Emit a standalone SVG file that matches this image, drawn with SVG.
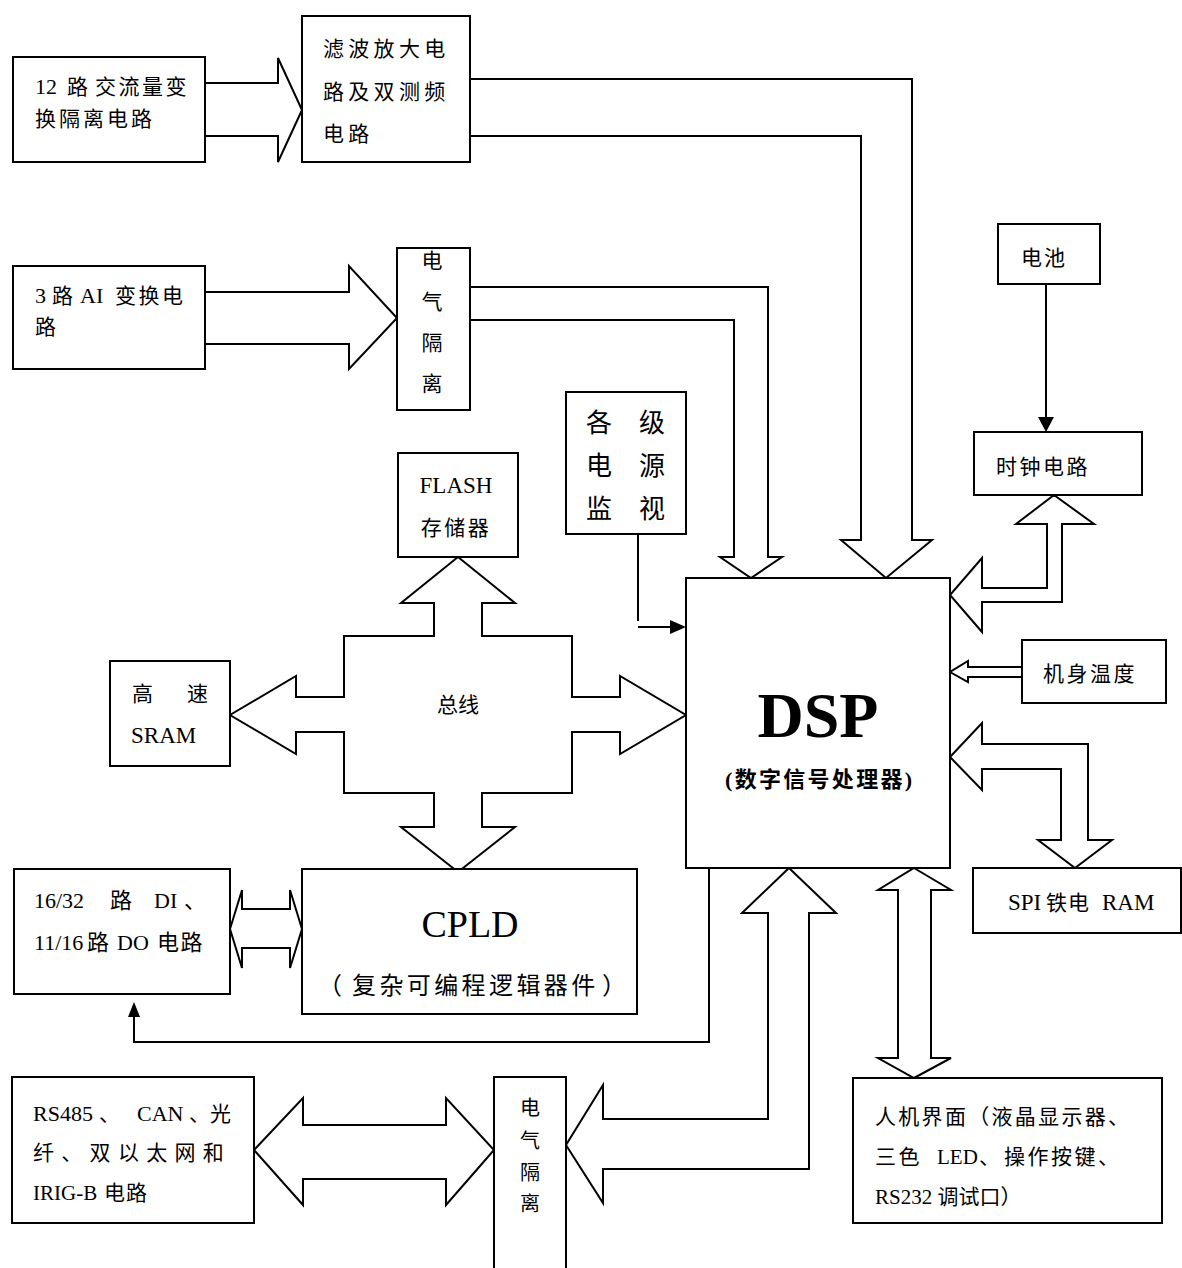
<svg xmlns="http://www.w3.org/2000/svg" width="1182" height="1268" viewBox="0 0 1182 1268">
  <defs>
    <style>
      .box { fill: #fff; stroke: #000; stroke-width: 2; }
      .ln { fill: none; stroke: #000; stroke-width: 2; }
      .fat { fill: #fff; stroke: #000; stroke-width: 2; stroke-linejoin: miter; }
      .head { fill: #000; stroke: none; }
      text { font-family: "Liberation Serif", "Noto Sans CJK SC", serif; font-size: 21px; fill: #000; }
      .mid { text-anchor: middle; }
      .lat { font-size: 22px; }
    </style>
  </defs>
  <rect width="1182" height="1268" fill="#fff"/>

  <!-- connectors -->
  <g id="connectors">
    <!-- AC inputs to filter/amplifier -->
    <polyline class="fat" points="205,83 278,83 278,58 302,110 278,162 278,136 205,136"/>
    <!-- filter/amplifier to DSP -->
    <polyline class="fat" points="470,79 912,79 912,540 932,540 886,578 841,540 861,540 861,136 470,136"/>
    <!-- AI conversion to isolation -->
    <polyline class="fat" points="205,292 349,292 349,266 397,318 349,369 349,344 205,344"/>
    <!-- isolation to DSP -->
    <polyline class="fat" points="470,287 768,287 768,557 782,557 751,578 720,557 734,557 734,320 470,320"/>
    <!-- system bus -->
    <polygon class="fat" points="458,557 515,603 482,603 482,636 572,636 572,697 620,697 620,676 686,715 620,754 620,732 572,732 572,793 482,793 482,827 515,827 458,872 401,827 434,827 434,793 344,793 344,732 296,732 296,754 230,715 296,676 296,697 344,697 344,636 434,636 434,603 401,603"/>
    <!-- power monitor to DSP -->
    <polyline class="ln" points="638,534 638,621"/>
    <line class="ln" x1="638" y1="627" x2="671" y2="627"/>
    <polygon class="head" points="670,620 686,627 670,634"/>
    <!-- battery to clock -->
    <line class="ln" x1="1046" y1="284" x2="1046" y2="418"/>
    <polygon class="head" points="1038,417 1054,417 1046,432"/>
    <!-- clock <-> DSP -->
    <polygon class="fat" points="1054,495 1094,524 1062,524 1062,602 982,602 982,632 950,595 982,558 982,588 1047,588 1047,524 1016,524"/>
    <!-- temperature to DSP -->
    <polyline class="fat" points="1022,667 968,667 968,661 950,672 968,682 968,677 1022,677"/>
    <!-- SPI RAM <-> DSP -->
    <polygon class="fat" points="950,757 982,723 982,744 1088,744 1088,840 1112,840 1075,868 1038,840 1061,840 1061,769 982,769 982,790"/>
    <!-- HMI <-> DSP -->
    <polygon class="fat" points="914,868 951,890 931,890 931,1058 951,1058 914,1078 878,1058 898,1058 898,890 878,890"/>
    <!-- communication isolation <-> DSP -->
    <polygon class="fat" points="789,868 836,913 809,913 809,1169 603,1169 603,1203 566,1145 603,1085 603,1119 768,1119 768,913 742,913"/>
    <!-- communication circuits <-> isolation -->
    <polygon class="fat" points="254,1150 303,1098 303,1125 446,1125 446,1098 494,1150 446,1205 446,1179 303,1179 303,1205"/>
    <!-- DI/DO <-> CPLD -->
    <polygon class="fat" points="230,929 242,890 242,909 290,909 290,890 302,929 290,968 290,948 242,948 242,968"/>
    <!-- DSP to DI/DO -->
    <polyline class="ln" points="709,868 709,1042 134,1042 134,1016"/>
    <polygon class="head" points="128,1017 140,1017 134,1002"/>
  </g>

  <!-- nodes -->
  <g id="ac-input">
    <rect class="box" x="13" y="57" width="192" height="105"/>
    <text y="94"><tspan class="lat" x="35">12</tspan><tspan x="67">路</tspan><tspan x="95" letter-spacing="2.5">交流量变</tspan></text>
    <text x="35" y="126" letter-spacing="3">换隔离电路</text>
  </g>

  <g id="filter-amp">
    <rect class="box" x="302" y="16" width="168" height="146"/>
    <text x="323" y="56" letter-spacing="4.3">滤波放大电</text>
    <text x="323" y="99" letter-spacing="4.3">路及双测频</text>
    <text x="323" y="141" letter-spacing="4.3">电路</text>
  </g>

  <g id="ai-input">
    <rect class="box" x="13" y="266" width="192" height="103"/>
    <text y="303"><tspan class="lat" x="35">3</tspan><tspan x="52">路</tspan><tspan class="lat" x="80">AI</tspan><tspan x="115" letter-spacing="2.5">变换电</tspan></text>
    <text x="35" y="334">路</text>
  </g>

  <g id="ai-isolation">
    <rect class="box" x="397" y="248" width="73" height="162"/>
    <text class="mid" x="432" y="268">电</text>
    <text class="mid" x="432" y="309">气</text>
    <text class="mid" x="432" y="350">隔</text>
    <text class="mid" x="432" y="391">离</text>
  </g>

  <g id="power-monitor">
    <rect class="box" x="566" y="392" width="120" height="142"/>
    <text class="mid" x="599" y="432" style="font-size:26px">各</text>
    <text class="mid" x="652" y="432" style="font-size:26px">级</text>
    <text class="mid" x="599" y="475" style="font-size:26px">电</text>
    <text class="mid" x="652" y="475" style="font-size:26px">源</text>
    <text class="mid" x="599" y="518" style="font-size:26px">监</text>
    <text class="mid" x="652" y="518" style="font-size:26px">视</text>
  </g>

  <g id="flash">
    <rect class="box" x="398" y="453" width="120" height="104"/>
    <text class="mid" x="456" y="493" style="font-size:23px">FLASH</text>
    <text class="mid" x="456" y="535" letter-spacing="2.5">存储器</text>
  </g>

  <g id="bus-label">
    <text class="mid" x="458" y="712">总线</text>
  </g>

  <g id="sram">
    <rect class="box" x="110" y="661" width="120" height="105"/>
    <text x="132" y="701">高</text>
    <text x="187" y="701">速</text>
    <text x="131" y="743" style="font-size:23px">SRAM</text>
  </g>

  <g id="dsp">
    <rect class="box" x="686" y="578" width="264" height="290"/>
    <text class="mid" x="818" y="737" style="font-size:64px;font-weight:bold">DSP</text>
    <text x="725" y="787" style="font-size:22px;font-weight:bold" letter-spacing="2.3">(数字信号处理器)</text>
  </g>

  <g id="battery">
    <rect class="box" x="998" y="224" width="102" height="60"/>
    <text x="1021" y="265" letter-spacing="2">电池</text>
  </g>

  <g id="clock">
    <rect class="box" x="974" y="432" width="168" height="63"/>
    <text x="996" y="474" letter-spacing="2.5">时钟电路</text>
  </g>

  <g id="temperature">
    <rect class="box" x="1022" y="640" width="144" height="63"/>
    <text x="1043" y="681" letter-spacing="2.5">机身温度</text>
  </g>

  <g id="spi-ram">
    <rect class="box" x="973" y="868" width="208" height="65"/>
    <text y="910"><tspan x="1008" style="font-size:23px">SPI</tspan><tspan x="1046" letter-spacing="1">铁电</tspan><tspan x="1102" style="font-size:23px">RAM</tspan></text>
  </g>

  <g id="dido">
    <rect class="box" x="14" y="869" width="216" height="125"/>
    <text y="908" class="lat"><tspan x="34">16/32</tspan><tspan x="110">路</tspan><tspan x="154">DI</tspan><tspan x="184">、</tspan></text>
    <text y="950" class="lat"><tspan x="34">11/16</tspan><tspan x="87">路</tspan><tspan x="117">DO</tspan><tspan x="157" letter-spacing="1.5">电路</tspan></text>
  </g>

  <g id="cpld">
    <rect class="box" x="302" y="869" width="335" height="145"/>
    <text class="mid" x="470" y="937" style="font-size:38px">CPLD</text>
    <text y="994" style="font-size:24px"><tspan x="318">（</tspan><tspan x="352" letter-spacing="3.4">复杂可编程逻辑器件</tspan><tspan x="602">）</tspan></text>
  </g>

  <g id="comm">
    <rect class="box" x="12" y="1077" width="242" height="146"/>
    <text y="1121"><tspan class="lat" x="33">RS485</tspan><tspan x="99">、</tspan><tspan class="lat" x="137">CAN</tspan><tspan x="189">、</tspan><tspan x="210">光</tspan></text>
    <text x="33" y="1160" letter-spacing="7.3">纤、双以太网和</text>
    <text y="1200"><tspan x="33">IRIG-B</tspan><tspan x="104" letter-spacing="1">电路</tspan></text>
  </g>

  <g id="comm-isolation">
    <rect class="box" x="494" y="1077" width="72" height="200"/>
    <text class="mid" x="530" y="1115" style="font-size:20px">电</text>
    <text class="mid" x="530" y="1148" style="font-size:20px">气</text>
    <text class="mid" x="530" y="1180" style="font-size:20px">隔</text>
    <text class="mid" x="530" y="1211" style="font-size:20px">离</text>
  </g>

  <g id="hmi">
    <rect class="box" x="853" y="1078" width="309" height="145"/>
    <text x="875" y="1124" letter-spacing="2.3">人机界面（液晶显示器、</text>
    <text y="1164"><tspan x="875" letter-spacing="2.5">三色</tspan><tspan x="937">LED</tspan><tspan x="979">、</tspan><tspan x="1004" letter-spacing="2.5">操作按键、</tspan></text>
    <text x="875" y="1204">RS232 调试口）</text>
  </g>
</svg>
